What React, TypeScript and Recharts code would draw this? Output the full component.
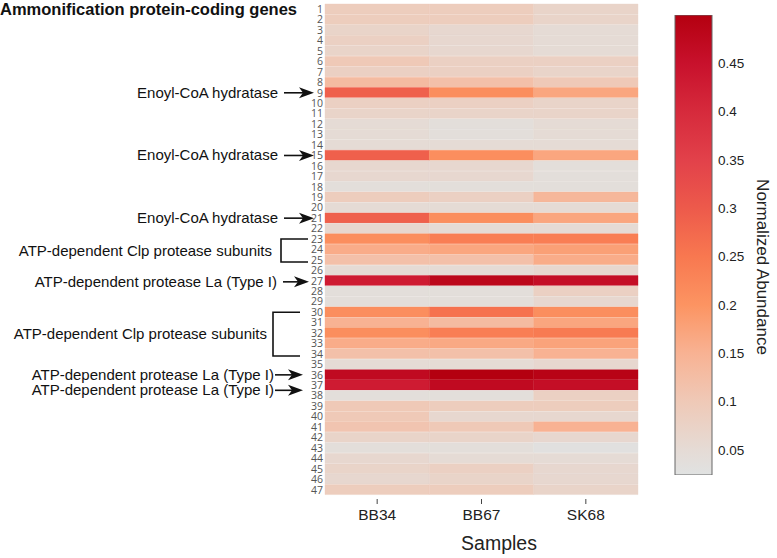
import { Bar, BarChart, Cell, XAxis, YAxis } from 'recharts';

const samples = ['BB34', 'BB67', 'SK68'];
const rowLabels = Array.from({ length: 47 }, (_, i) => String(i + 1));

// normalized abundance per gene row, one list per sample
const bb34 = [
  0.09, 0.09, 0.07, 0.08, 0.07, 0.1, 0.08, 0.13, 0.29, 0.08,
  0.07, 0.05, 0.05, 0.05, 0.29, 0.06, 0.06, 0.04, 0.09, 0.05,
  0.29, 0.06, 0.21, 0.16, 0.12, 0.05, 0.43, 0.04, 0.04, 0.21,
  0.15, 0.21, 0.16, 0.12, 0.05, 0.47, 0.43, 0.04, 0.1, 0.1,
  0.11, 0.07, 0.04, 0.06, 0.07, 0.06, 0.09,
];
const bb67 = [
  0.09, 0.09, 0.06, 0.06, 0.06, 0.08, 0.08, 0.12, 0.21, 0.08,
  0.07, 0.04, 0.04, 0.05, 0.21, 0.06, 0.06, 0.04, 0.08, 0.05,
  0.21, 0.05, 0.24, 0.17, 0.12, 0.05, 0.48, 0.04, 0.04, 0.26,
  0.13, 0.24, 0.165, 0.12, 0.05, 0.5, 0.47, 0.04, 0.09, 0.06,
  0.1, 0.07, 0.04, 0.05, 0.08, 0.07, 0.09,
];
const sk68 = [
  0.07, 0.07, 0.05, 0.05, 0.05, 0.08, 0.07, 0.1, 0.17, 0.07,
  0.07, 0.05, 0.05, 0.05, 0.17, 0.04, 0.04, 0.04, 0.14, 0.05,
  0.17, 0.05, 0.24, 0.18, 0.16, 0.06, 0.46, 0.08, 0.06, 0.21,
  0.17, 0.245, 0.175, 0.15, 0.06, 0.49, 0.46, 0.08, 0.09, 0.06,
  0.15, 0.06, 0.03, 0.05, 0.06, 0.06, 0.07,
];

const scaleTicks = [0.05, 0.1, 0.15, 0.2, 0.25, 0.3, 0.35, 0.4, 0.45];
const scaleMin = 0.024;
const scaleMax = 0.5;

const colorStops: [number, string][] = [
  [0.024, '#e0e2e2'],
  [0.05, '#e5dbd5'],
  [0.1, '#efc9b7'],
  [0.15, '#f8b293'],
  [0.2, '#fc9462'],
  [0.25, '#f87850'],
  [0.3, '#ed5a4b'],
  [0.35, '#e2414a'],
  [0.4, '#d62a3c'],
  [0.45, '#c8112c'],
  [0.5, '#b40010'],
];

function hex(c: string) {
  return [1, 3, 5].map((i) => parseInt(c.slice(i, i + 2), 16));
}

function colorFor(v: number) {
  if (v <= colorStops[0][0]) return colorStops[0][1];
  for (let i = 1; i < colorStops.length; i++) {
    const [v1, c1] = colorStops[i];
    const [v0, c0] = colorStops[i - 1];
    if (v <= v1) {
      const t = (v - v0) / (v1 - v0);
      const a = hex(c0);
      const b = hex(c1);
      const m = a.map((x, k) => Math.round(x + (b[k] - x) * t));
      return `rgb(${m[0]},${m[1]},${m[2]})`;
    }
  }
  return colorStops[colorStops.length - 1][1];
}

const data = rowLabels.map((row, i) => ({ row, a: 1, b: 1, c: 1, i }));
const series = [
  { key: 'a', vals: bb34 },
  { key: 'b', vals: bb67 },
  { key: 'c', vals: sk68 },
];

// plot area of the heatmap
const PLOT_TOP = 4;
const PLOT_BOTTOM = 495;
const PLOT_LEFT = 325;
const PLOT_RIGHT = 638;
const rowH = (PLOT_BOTTOM - PLOT_TOP) / rowLabels.length;
const rowY = (r: number) => PLOT_TOP + (r - 0.5) * rowH;

const arrows = [
  { row: 9, text: 'Enoyl-CoA hydratase', textEnd: 278, from: 284, tip: 314, dy: 0 },
  { row: 15, text: 'Enoyl-CoA hydratase', textEnd: 278, from: 284, tip: 314, dy: 0 },
  { row: 21, text: 'Enoyl-CoA hydratase', textEnd: 278, from: 284, tip: 314, dy: 0 },
  { row: 27, text: 'ATP-dependent protease La (Type I)', textEnd: 277, from: 283, tip: 309, dy: 1 },
  { row: 36, text: 'ATP-dependent protease La (Type I)', textEnd: 274, from: 275, tip: 303, dy: 0 },
  { row: 37, text: 'ATP-dependent protease La (Type I)', textEnd: 274, from: 275, tip: 303, dy: 5 },
];

const brackets = [
  { from: 23, to: 25, text: 'ATP-dependent Clp protease subunits', textEnd: 272, x: 281, x2: 308 },
  { from: 30, to: 34, text: 'ATP-dependent Clp protease subunits', textEnd: 267, x: 273, x2: 300 },
];

const font = "'Liberation Sans', Arial, sans-serif";

function SampleTick(props: any) {
  const { x, y, payload } = props;
  return (
    <g>
      <line x1={x} x2={x} y1={y + 4} y2={y + 9} stroke="#444" strokeWidth={1} />
      <text x={x} y={y + 25} textAnchor="middle" fontSize={15.5} fill="#222" fontFamily={font}>
        {samples[Math.floor(payload.value)]}
      </text>
    </g>
  );
}

export default function App() {
  return (
    <div style={{ position: 'relative', width: 777, height: 558, fontFamily: font, background: '#fff' }}>
      <style>{'body{margin:0}'}</style>
      <div style={{ position: 'absolute', left: 0, top: 0 }}>
        <BarChart
          width={777}
          height={558}
          data={data}
          layout="vertical"
          barCategoryGap={0}
          barGap={0}
          margin={{ top: PLOT_TOP, right: 777 - PLOT_RIGHT, bottom: 3, left: PLOT_LEFT - 20 }}
        >
          <XAxis
            type="number"
            domain={[0, 3]}
            ticks={[0.5, 1.5, 2.5]}
            tick={<SampleTick />}
            tickSize={0}
            tickMargin={0}
            axisLine={false}
            tickLine={false}
            height={60}
            interval={0}
          />
          <YAxis
            type="category"
            dataKey="row"
            width={20}
            interval={0}
            tickLine={false}
            axisLine={false}
            tickSize={0}
            tickMargin={2}
            tick={{ fontSize: 10.5, fill: '#555', fontFamily: "'Open Sans', sans-serif" }}
          />
          {series.map((s) => (
            <Bar key={s.key} dataKey={s.key} stackId="h" isAnimationActive={false}>
              {s.vals.map((v, i) => (
                <Cell key={i} fill={colorFor(v)} stroke={colorFor(v)} strokeWidth={0.4} />
              ))}
            </Bar>
          ))}
        </BarChart>
      </div>

      <div style={{ position: 'absolute', left: 640, top: 0 }}>
        <BarChart
          width={137}
          height={558}
          data={[{ k: 'scale', r: [scaleMin, scaleMax] }]}
          barCategoryGap={0}
          margin={{ top: 15, right: 5, bottom: 83, left: 35 }}
        >
          <defs>
            <linearGradient id="cbGrad" x1="0" y1="0" x2="0" y2="1">
              {[...colorStops].reverse().map(([v, c]) => (
                <stop key={v} offset={(scaleMax - v) / (scaleMax - scaleMin)} stopColor={c} />
              ))}
            </linearGradient>
          </defs>
          <XAxis dataKey="k" hide />
          <YAxis
            orientation="right"
            type="number"
            domain={[scaleMin, scaleMax]}
            ticks={scaleTicks}
            allowDataOverflow
            width={60}
            axisLine={false}
            tickLine={false}
            tickSize={0}
            tickMargin={6}
            tickFormatter={(v) => String(v)}
            tick={{ fontSize: 13.5, fill: '#222', fontFamily: font }}
          />
          <Bar dataKey="r" fill="url(#cbGrad)" stroke="#666" strokeWidth={1} isAnimationActive={false} />
        </BarChart>
      </div>

      <svg
        width={777}
        height={558}
        style={{ position: 'absolute', left: 0, top: 0, pointerEvents: 'none' }}
        fontFamily={font}
      >
        <text x={0} y={15} fontSize={16.5} fontWeight="bold" fill="#111">
          Ammonification protein-coding genes
        </text>
        {arrows.map((a, i) => {
          const y = rowY(a.row) + a.dy;
          return (
            <g key={i}>
              <text x={a.textEnd} y={y + 5} textAnchor="end" fontSize={15} fill="#111">
                {a.text}
              </text>
              <line x1={a.from} x2={a.tip - 8} y1={y} y2={y} stroke="#111" strokeWidth={1.6} />
              <polygon
                points={`${a.tip},${y} ${a.tip - 15},${y - 5.5} ${a.tip - 11},${y} ${a.tip - 15},${y + 5.5}`}
                fill="#111"
              />
            </g>
          );
        })}
        {brackets.map((b, i) => {
          const y1 = rowY(b.from);
          const y2 = rowY(b.to) + 2;
          return (
            <g key={i}>
              <text x={b.textEnd} y={(y1 + y2) / 2 + 5} textAnchor="end" fontSize={15} fill="#111">
                {b.text}
              </text>
              <polyline
                points={`${b.x2},${y1} ${b.x},${y1} ${b.x},${y2} ${b.x2},${y2}`}
                fill="none"
                stroke="#111"
                strokeWidth={1.6}
              />
            </g>
          );
        })}
        <text x={499} y={550} textAnchor="middle" fontSize={19.5} fill="#222">
          Samples
        </text>
        <text
          x={762}
          y={267}
          textAnchor="middle"
          dominantBaseline="central"
          fontSize={17}
          fill="#222"
          transform="rotate(90 762 267)"
        >
          Normalized Abundance
        </text>
      </svg>
    </div>
  );
}
